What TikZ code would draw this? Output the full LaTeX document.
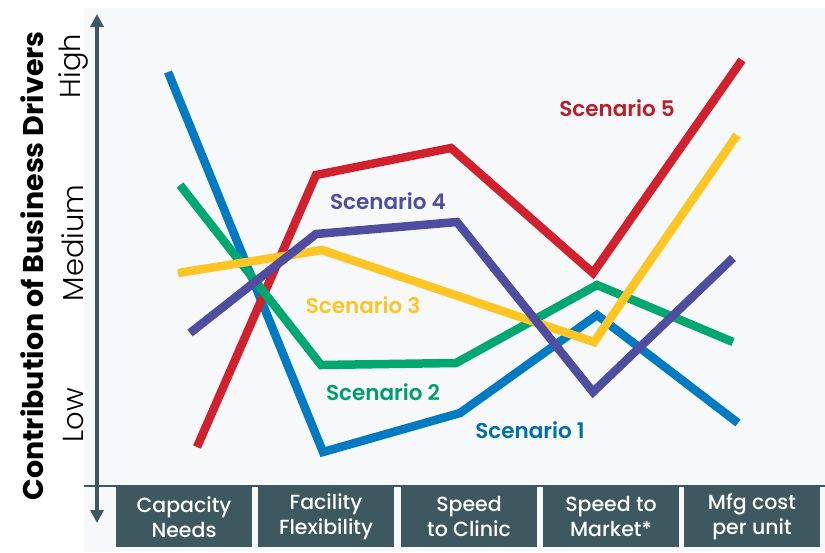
\documentclass[tikz,border=0pt]{standalone}
\usepackage{fontspec}
\setmainfont{Poppins}
\newfontfamily\lightfont{Poppins Light}
\newfontfamily\mediumfont{Poppins Medium}
\newfontfamily\semifont{Poppins SemiBold}
\usetikzlibrary{arrows.meta}
\definecolor{panel}{RGB}{246,248,250}
\definecolor{slate}{RGB}{61,88,94}
\definecolor{sblue}{RGB}{0,122,194}
\definecolor{sred}{RGB}{209,32,46}
\definecolor{sgreen}{RGB}{0,167,110}
\definecolor{syellow}{RGB}{253,198,36}
\definecolor{spurple}{RGB}{80,76,160}
\begin{document}
\begin{tikzpicture}[x=1pt, y=-1pt,
  driver/.style={draw=none, fill=slate, minimum width=136pt, minimum height=60pt,
    text=white, align=center, font=\fontsize{20.5}{25}\selectfont\mediumfont},
  scen/.style={line width=8.5pt},
  scenlabel/.style={font=\fontsize{21.5}{24}\selectfont\semifont},
  level/.style={rotate=90, font=\fontsize{29}{32}\selectfont\lightfont}]
\useasboundingbox (0,0) rectangle (825,552);
% Background panel
\fill[panel] (84,8) rectangle (825,552);

% Axis
\draw[slate, line width=1.3pt] (84,486) -- (825,486);
\coordinate (ytop) at (97,14);
\coordinate (ybot) at (97,523);
\draw[slate, line width=3.5pt, {Triangle[length=13pt,width=13pt]}-{Triangle[length=13pt,width=13pt]}] (ybot) -- (ytop);
\node[rotate=90, font=\fontsize{28.5}{32}\selectfont\bfseries] (ytitle) at (32,266) {Contribution of Business Drivers};
\node[level] (high) at (73,66) {High};
\node[level] (medium) at (73,243) {Medium};
\node[level] (low) at (73,415) {Low};

% Business drivers
\node[driver] (cap) at (184,517) {Capacity\\Needs};
\node[driver] (fac) at (326,517) {Facility\\Flexibility};
\node[driver] (clin) at (469,517) {Speed\\to Clinic};
\node[driver] (mkt) at (611,517) {Speed to\\Market*};
\node[driver] (mfg) at (752,517) {Mfg cost\\per unit};

% Scenarios
\draw[scen, sblue] (168,72) -- (323,452) -- (460,413) -- (597,315) -- (738,423);
\draw[scen, sred] (197,447) -- (316,175) -- (451,148) -- (593,273) -- (742,60);
\draw[scen, sgreen] (180,185) -- (321,365) -- (456,363) -- (597,285) -- (733,342);
\draw[scen, syellow] (178,273) -- (322,250) -- (594,342) -- (737,135);
\draw[scen, spurple] (190,333) -- (316,234) -- (457,222) -- (593,392) -- (733,258);

\node[scenlabel, text=sblue!90!black] (s1) at (530,430) {Scenario 1};
\node[scenlabel, text=sgreen!95!black] (s2) at (383,392) {Scenario 2};
\node[scenlabel, text=syellow] (s3) at (363,305) {Scenario 3};
\node[scenlabel, text=spurple] (s4) at (388,201) {Scenario 4};
\node[scenlabel, text=sred!90!black] (s5) at (617,108) {Scenario 5};
\end{tikzpicture}
\end{document}
